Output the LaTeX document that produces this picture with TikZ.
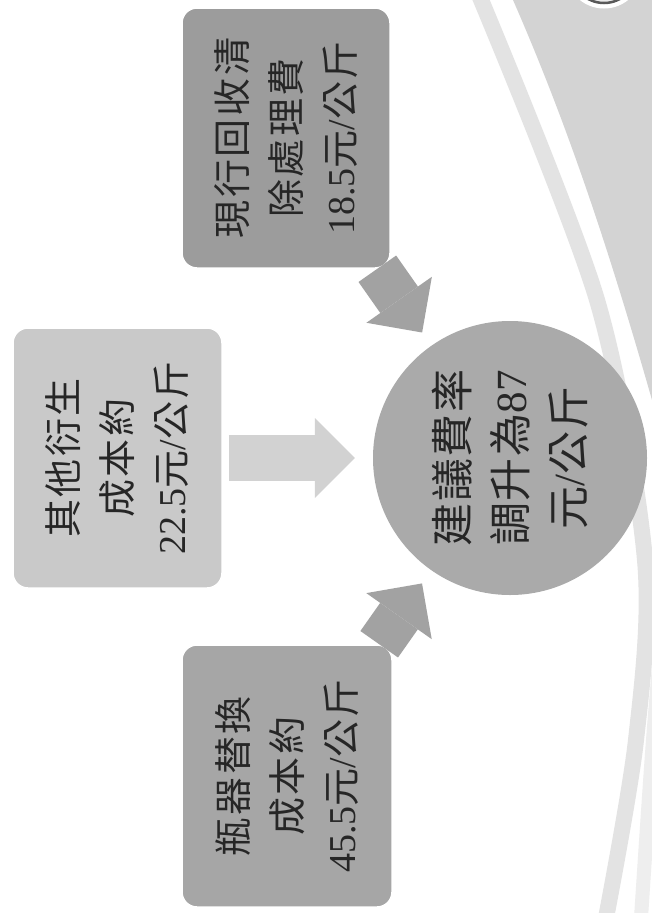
\documentclass[tikz,border=0pt]{standalone}
\usepackage{fontspec}
\setmainfont{Liberation Serif}
\newfontfamily\cjk[LetterSpace=7]{Noto Sans CJK TC}
\newfontfamily\cjkc[LetterSpace=4]{Noto Sans CJK TC}
\usetikzlibrary{arrows.meta}
\definecolor{txt}{HTML}{262626}
\definecolor{boxtop}{HTML}{9C9C9C}
\definecolor{boxleft}{HTML}{C9C9C9}
\definecolor{boxbot}{HTML}{A6A6A6}
\definecolor{circfill}{HTML}{AAAAAA}
\definecolor{arrdark}{HTML}{A2A2A2}
\definecolor{arrlight}{HTML}{D2D2D2}
\definecolor{bggray}{HTML}{D3D3D3}
\definecolor{bandgray}{HTML}{E3E3E3}
\definecolor{bandlight}{HTML}{EEEEEE}
\begin{document}
\begin{tikzpicture}[x=1pt,y=-1pt,
  boxnode/.style={rectangle, rounded corners=15pt, rotate=90,
    minimum width=260pt, minimum height=208pt, draw=white, line width=1.5pt,
    text=txt, align=center, inner sep=0pt,
    font=\fontsize{38}{54}\selectfont},
  circnode/.style={circle, rotate=90, minimum size=274pt, fill=circfill,
    text=txt, align=center, inner sep=0pt,
    font=\fontsize{43}{58}\selectfont},
  bigarrow/.style={line width=46pt,
    -{Triangle[length=40pt,width=80pt,line width=0pt]}}
]
\useasboundingbox (0,0) rectangle (652,913);
\fill[white] (0,0) rectangle (652,913);
\begin{scope}
  \clip (0,0) rectangle (652,913);
  \fill[bggray] (513,0) .. controls (570,130) and (612,260) .. (652,400) -- (652,0) -- cycle;
  \draw[line width=16pt, bandgray] plot[smooth] coordinates {(479,-5) (597,300) (645,560) (636,740) (606,918)};
  \draw[line width=14pt, bandlight] plot[smooth] coordinates {(668,560) (653,740) (641,918)};
  \draw[white, line width=5pt] (604,-30) circle (36);
  \draw[draw=black!65, line width=2.5pt, fill=black!8] (604,-30) circle (33);
\end{scope}

\node[boxnode, fill=boxtop] (top) at (286,138)
  {{\cjk 現行回收清}\\{\cjk 除處理費}\\18.5{\cjk 元}/{\cjk 公斤}};
\node[boxnode, fill=boxleft, minimum height=209pt] (left) at (117.5,458)
  {{\cjk 其他衍生}\\{\cjk 成本約}\\22.5{\cjk 元}/{\cjk 公斤}};
\node[boxnode, fill=boxbot, minimum width=262pt, minimum height=210pt] (bot) at (287,776)
  {{\cjk 瓶器替換}\\{\cjk 成本約}\\45.5{\cjk 元}/{\cjk 公斤}};
\node[circnode] (circ) at (510,458)
  {{\cjkc 建議費率}\\{\cjkc 調升為}87\\{\cjkc 元}/{\cjkc 公斤}};

\draw[bigarrow, draw=arrdark, shorten >=16pt] (top) -- (circ);
\draw[bigarrow, draw=arrlight, shorten <=6pt, shorten >=18pt] (left) -- (circ);
\draw[bigarrow, draw=arrdark, shorten >=16pt] (bot) -- (circ);
\end{tikzpicture}
\end{document}
